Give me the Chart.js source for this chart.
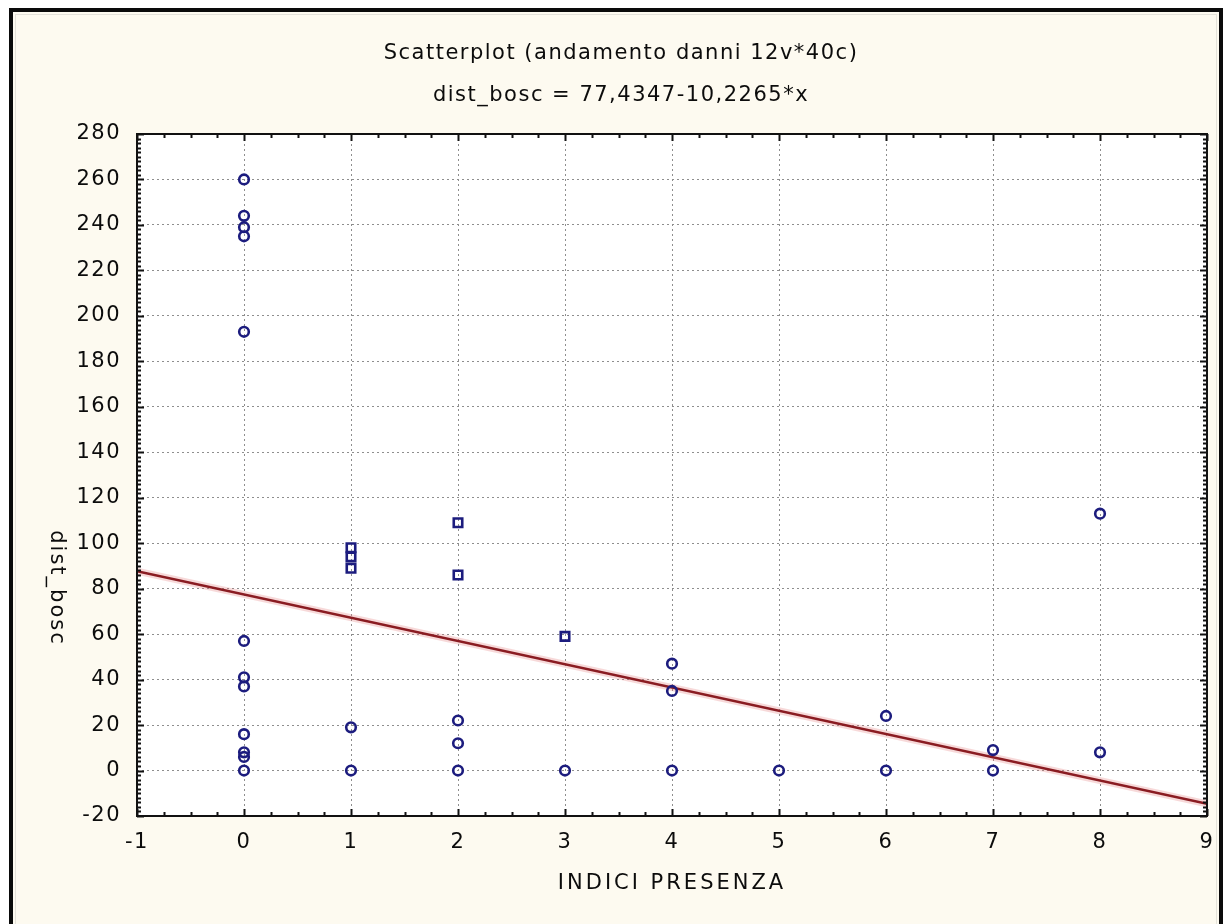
<!DOCTYPE html>
<html>
<head>
<meta charset="utf-8">
<script src="https://cdn.jsdelivr.net/npm/chart.js@4.4.0/dist/chart.umd.min.js"></script>
<style>
  html, body { margin: 0; padding: 0; background: #fff; }
  canvas { display: block; }
</style>
</head>
<body>
<canvas id="scatter" width="1232" height="924"></canvas>
<script>
// --- Data ---
const titleLines = ['Scatterplot (andamento danni 12v*40c)', 'dist_bosc = 77,4347-10,2265*x'];
const xAxisLabel = 'INDICI PRESENZA';
const yAxisLabel = 'dist_bosc';

const xRange = [-1, 9];
const yRange = [-20, 280];
const xStep = 1;
const yStep = 20;

// observations drawn as hollow circles
const circleX = [0, 0, 0, 0, 0, 0, 0, 0, 0, 0, 0, 0, 1, 1, 2, 2, 2, 3, 4, 4, 4, 5, 6, 6, 7, 7, 8, 8];
const circleY = [260, 244, 239, 235, 193, 57, 41, 37, 16, 8, 6, 0, 19, 0, 22, 12, 0, 0, 47, 35, 0, 0, 24, 0, 9, 0, 113, 8];

// observations drawn as hollow squares
const squareX = [1, 1, 1, 2, 2, 3];
const squareY = [98, 94, 89, 109, 86, 59];

// fitted line: dist_bosc = 77,4347 - 10,2265 * x
const fitIntercept = 77.4347;
const fitSlope = -10.2265;
const fitX = [-1, 9];

// --- Styling ---
const FONT = 'DejaVu Sans, Verdana, sans-serif';
const TEXT_COLOR = '#0c0c0c';
const MARK_COLOR = '#1c1c7e';
const CREAM = '#fdfaf0';

const toPoints = (xs, ys) => xs.map((x, i) => ({ x, y: ys[i] }));

// paper background, frame, minor ticks, titles
const decorations = {
  id: 'decorations',
  beforeDraw(chart) {
    const { ctx, chartArea: a, width, height } = chart;
    ctx.save();
    ctx.fillStyle = '#fff';
    ctx.fillRect(0, 0, width, height);
    ctx.fillStyle = CREAM;
    ctx.fillRect(11, 10, width - 22, height);
    ctx.fillStyle = '#fff';
    ctx.fillRect(a.left, a.top, a.right - a.left, a.bottom - a.top);
    ctx.restore();
    ctx.letterSpacing = '1.5px';
  },
  afterDraw(chart) {
    const { ctx, chartArea: a, width, height, scales } = chart;
    const sx = scales.x, sy = scales.y;
    ctx.save();

    // tick marks pointing into the plot on all four sides
    ctx.strokeStyle = '#111';
    ctx.lineWidth = 2;
    ctx.beginPath();
    for (let v = xRange[0]; v <= xRange[1] + 1e-9; v += 0.25) {
      const px = Math.round(sx.getPixelForValue(v)) + 0.5;
      const len = Math.abs(v - Math.round(v)) < 1e-9 ? 7 : 4;
      ctx.moveTo(px, a.bottom); ctx.lineTo(px, a.bottom - len);
      ctx.moveTo(px, a.top); ctx.lineTo(px, a.top + len);
    }
    for (let v = yRange[0]; v <= yRange[1]; v += 2) {
      const py = Math.round(sy.getPixelForValue(v)) + 0.5;
      const len = v % yStep === 0 ? 7 : 4;
      ctx.moveTo(a.left, py); ctx.lineTo(a.left + len, py);
      ctx.moveTo(a.right, py); ctx.lineTo(a.right - len, py);
    }
    ctx.stroke();

    // plot frame
    ctx.lineWidth = 2;
    ctx.strokeRect(a.left, a.top, a.right - a.left, a.bottom - a.top);

    ctx.fillStyle = TEXT_COLOR;
    ctx.font = `21px ${FONT}`;
    ctx.textAlign = 'center';
    ctx.textBaseline = 'middle';

    // chart title, centred on the window
    ctx.letterSpacing = '1.5px';
    ctx.fillText(titleLines[0], 621, 54);
    ctx.fillText(titleLines[1], 621, 96);

    // axis titles
    ctx.letterSpacing = '3px';
    ctx.fillText(xAxisLabel, (a.left + a.right) / 2, 884);

    ctx.letterSpacing = '2px';
    ctx.translate(56, 588);
    ctx.rotate(Math.PI / 2);
    ctx.fillText(yAxisLabel, 0, 0);
    ctx.restore();

    // outer window frame
    ctx.save();
    ctx.strokeStyle = '#0a0a0a';
    ctx.lineWidth = 4;
    ctx.strokeRect(11, 10, width - 22, height + 20);
    ctx.strokeStyle = '#e4e2da';
    ctx.lineWidth = 1;
    ctx.strokeRect(15.5, 14.5, width - 31, height + 20);
    ctx.restore();
  }
};

new Chart(document.getElementById('scatter'), {
  type: 'scatter',
  data: {
    datasets: [
      {
        label: 'fit halo',
        type: 'line',
        data: fitX.map(x => ({ x, y: fitIntercept + fitSlope * x })),
        borderColor: 'rgba(225, 120, 120, 0.28)',
        borderWidth: 7,
        pointRadius: 0,
        order: 3
      },
      {
        label: 'fit',
        type: 'line',
        data: fitX.map(x => ({ x, y: fitIntercept + fitSlope * x })),
        borderColor: '#8a1c22',
        borderWidth: 2.5,
        pointRadius: 0,
        order: 2
      },
      {
        label: 'circles',
        data: toPoints(circleX, circleY),
        pointStyle: 'circle',
        pointRadius: 4.8,
        borderWidth: 2.6,
        borderColor: MARK_COLOR,
        backgroundColor: 'rgba(0,0,0,0)',
        order: 1
      },
      {
        label: 'squares',
        data: toPoints(squareX, squareY),
        pointStyle: 'rect',
        pointRadius: 6,
        borderWidth: 2.6,
        borderColor: MARK_COLOR,
        backgroundColor: 'rgba(0,0,0,0)',
        order: 1
      }
    ]
  },
  options: {
    responsive: false,
    animation: false,
    devicePixelRatio: 1,
    layout: { padding: { left: 12, right: 25, top: 134, bottom: 0 } },
    plugins: {
      legend: { display: false },
      tooltip: { enabled: false },
      title: { display: false }
    },
    scales: {
      x: {
        type: 'linear',
        position: 'bottom',
        min: xRange[0],
        max: xRange[1],
        afterFit: s => { s.height = 108; },
        ticks: { stepSize: xStep, color: TEXT_COLOR, font: { family: FONT, size: 21 }, padding: 14 },
        grid: { color: '#8e8e8e', lineWidth: 1, drawTicks: false },
        border: { display: false, dash: [2, 3] }
      },
      y: {
        type: 'linear',
        min: yRange[0],
        max: yRange[1],
        afterFit: s => { s.width = 125; },
        ticks: { stepSize: yStep, color: TEXT_COLOR, font: { family: FONT, size: 21 }, padding: 16 },
        grid: { color: '#8e8e8e', lineWidth: 1, drawTicks: false },
        border: { display: false, dash: [2, 3] }
      }
    }
  },
  plugins: [decorations]
});
</script>
</body>
</html>
